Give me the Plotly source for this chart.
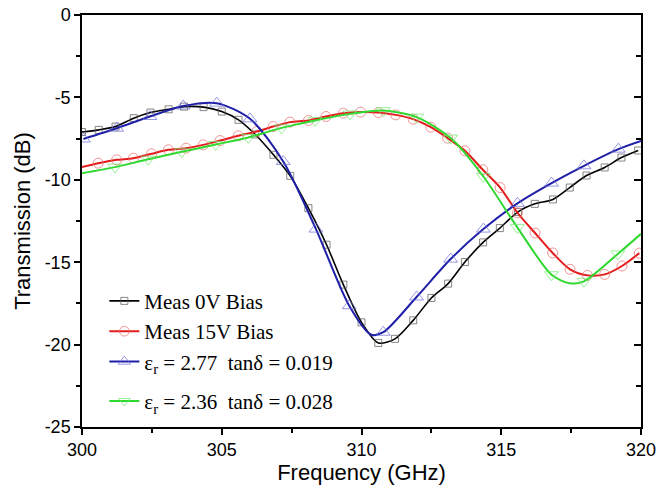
import plotly.graph_objects as go

# ---------------- data ----------------
black_x = [300.0, 300.6, 301.2, 301.85, 302.45, 303.1, 303.65, 304.35, 305.0, 305.6,
           306.2, 306.85, 307.45, 308.1, 308.75, 309.35, 310.0, 310.6, 311.2, 311.85,
           312.5, 313.1, 313.7, 314.35, 314.95, 315.6, 316.2, 316.85, 317.45, 318.05,
           318.7, 319.3, 319.9]
black_y = [-7.1, -6.97, -6.77, -6.26, -5.92, -5.72, -5.56, -5.59, -5.86, -6.36,
           -7.25, -8.48, -9.76, -11.72, -13.94, -16.36, -18.65, -19.9, -19.65, -18.53,
           -17.17, -16.3, -14.99, -13.8, -12.93, -11.95, -11.46, -11.19, -10.47, -9.74,
           -9.25, -8.65, -8.22]

red_x = [300.0, 300.58, 301.24, 301.84, 302.49, 303.09, 303.72, 304.34, 304.94, 305.59,
         306.25, 306.84, 307.44, 308.1, 308.73, 309.35, 309.97, 310.6, 311.22, 311.85,
         312.48, 313.08, 313.7, 314.34, 314.96, 315.58, 316.21, 316.84, 317.46, 318.08,
         318.7, 319.32, 319.94]
red_y = [-9.23, -8.99, -8.79, -8.69, -8.42, -8.18, -8.08, -7.88, -7.62, -7.33,
         -7.07, -6.77, -6.5, -6.4, -6.16, -5.96, -5.89, -5.92, -6.06, -6.32,
         -6.81, -7.47, -8.24, -9.39, -10.47, -12.0, -13.23, -14.44, -15.43, -15.8,
         -15.74, -15.23, -14.45]
red_mark = [0] + [1] * 32

blue_x = [300.05, 301.24, 302.43, 303.62, 304.82, 306.01, 307.2, 308.37, 309.56, 310.35,
          310.78, 311.97, 313.19, 314.36, 315.58, 316.8, 317.96, 319.19, 320.0]
blue_y = [-7.52, -6.87, -6.16, -5.52, -5.35, -6.3, -8.89, -12.99, -17.64, -19.4,
          -19.25, -17.11, -14.81, -12.99, -11.43, -10.2, -9.15, -8.14, -7.64]
blue_mark = [1, 1, 1, 1, 1, 1, 1, 1, 1, 0, 1, 1, 1, 1, 1, 1, 1, 1, 0]

green_x = [300.0, 301.18, 302.37, 303.57, 304.78, 305.95, 307.14, 308.34, 309.59, 310.78,
           311.97, 313.19, 314.36, 315.58, 316.8, 317.45, 317.96, 319.17, 320.0]
green_y = [-9.6, -9.23, -8.75, -8.3, -7.86, -7.43, -6.85, -6.4, -6.0, -5.8,
           -6.2, -7.47, -9.8, -12.9, -15.76, -16.28, -16.16, -14.5, -13.28]
green_mark = [0, 1, 1, 1, 1, 1, 1, 1, 1, 1, 1, 1, 1, 1, 1, 0, 1, 1, 0]

names = ["Meas 0V Bias", "Meas 15V Bias",
         "ε<sub>r</sub> = 2.77\u00a0\u00a0tanδ = 0.019",
         "ε<sub>r</sub> = 2.36\u00a0\u00a0tanδ = 0.028"]

x_ticks = [300, 305, 310, 315, 320]
y_ticks = [0, -5, -10, -15, -20, -25]

# ---------------- figure ----------------
fig = go.Figure()

def add(xs, ys, mark, name, lc, mc, sym, ms, lw, legend="legend"):
    sizes = [ms if m else 0 for m in mark]
    fig.add_trace(go.Scatter(
        x=xs, y=ys, name=name, mode="lines+markers", legend=legend,
        line=dict(color=lc, width=lw, shape="spline", smoothing=0.8),
        marker=dict(symbol=sym, size=sizes, color=mc, line=dict(color=mc, width=1)),
    ))

add(black_x, black_y, [1] * len(black_x), names[0], "#000000", "#555555", "square-open", 7, 1.6)
add(red_x, red_y, red_mark, names[1], "#e31b1b", "#e86a6a", "circle-open", 10, 2)
add(blue_x, blue_y, blue_mark, names[2], "#1f1fa8", "#6c6cd8", "triangle-up-open", 12, 2)
add(green_x, green_y, green_mark, names[3], "#2fd82f", "#6fe86f", "triangle-down-open", 12, 2,
    legend="legend2")

# dummy trace to carry the right-hand axis
fig.add_trace(go.Scatter(x=[None], y=[None], yaxis="y2", showlegend=False, hoverinfo="skip"))

axis_font = dict(family="Liberation Sans, Arial, sans-serif", size=18, color="#000")
title_font = dict(family="Liberation Sans, Arial, sans-serif", size=22, color="#000")
leg_font = dict(family="Liberation Serif, Times New Roman, serif", size=21, color="#000")

fig.update_layout(
    width=660, height=487,
    margin=dict(l=82, r=19, t=15, b=60, autoexpand=False),
    paper_bgcolor="white", plot_bgcolor="white",
    showlegend=True,
    legend=dict(
        x=0.04, y=0.355, xanchor="left", yanchor="top", font=leg_font,
        bgcolor="rgba(0,0,0,0)", traceorder="grouped", tracegroupgap=6,
        itemwidth=30,
    ),
    legend2=dict(
        x=0.04, y=0.112, xanchor="left", yanchor="top", font=leg_font,
        bgcolor="rgba(0,0,0,0)", itemwidth=30,
    ),
    xaxis=dict(
        range=[300, 320], tickvals=x_ticks, ticktext=[str(v) for v in x_ticks],
        showgrid=False, zeroline=False, automargin=False,
        showline=True, linecolor="#000", linewidth=1.5, mirror=True,
        ticks="outside", ticklen=6, tickwidth=1.5, tickcolor="#000",
        minor=dict(tickvals=[302.5, 307.5, 312.5, 317.5], ticks="outside", ticklen=4,
                   tickwidth=1.5, tickcolor="#000"),
        tickfont=axis_font,
        title=dict(text="Frequency (GHz)", font=title_font, standoff=5),
    ),
    yaxis=dict(
        range=[-25, 0], tickvals=y_ticks, ticktext=[str(v) for v in y_ticks],
        showgrid=False, zeroline=False, automargin=False,
        showline=True, linecolor="#000", linewidth=1.5,
        ticks="outside", ticklen=6, tickwidth=1.5, tickcolor="#000",
        minor=dict(tickvals=[-2.5, -7.5, -12.5, -17.5, -22.5], ticks="outside", ticklen=4,
                   tickwidth=1.5, tickcolor="#000"),
        tickfont=axis_font,
        title=dict(text="Transmission (dB)", font=title_font, standoff=8),
    ),
    yaxis2=dict(
        range=[-25, 0], overlaying="y", side="right", anchor="x", automargin=False,
        showgrid=False, zeroline=False, showticklabels=False,
        showline=True, linecolor="#000", linewidth=1.5,
        tickvals=y_ticks, ticks="inside", ticklen=7, tickwidth=1.5, tickcolor="#000",
        minor=dict(tickvals=[-2.5, -7.5, -12.5, -17.5, -22.5], ticks="inside", ticklen=5,
                   tickwidth=1.5, tickcolor="#000"),
    ),
)

fig.write_html("out.html")
